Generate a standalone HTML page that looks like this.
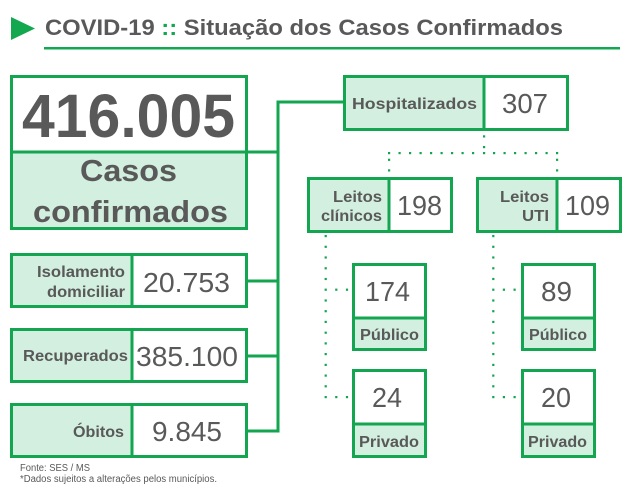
<!DOCTYPE html>
<html><head><meta charset="utf-8"><style>
html,body{margin:0;padding:0;background:#fff;}
svg{display:block;}
text{font-family:"Liberation Sans",Arial,sans-serif;fill:#595959;}
.b{font-weight:bold;}
</style></head><body>
<svg width="625" height="501" viewBox="0 0 625 501" xmlns="http://www.w3.org/2000/svg">
<rect width="625" height="501" fill="#fff"/>
<!-- title -->
<polygon points="11,17 35,28.5 11,40" fill="#13a84f"/>
<text class="b" x="45" y="35" font-size="22" textLength="518" lengthAdjust="spacingAndGlyphs">COVID-19 <tspan fill="#13a84f">::</tspan> Situação dos Casos Confirmados</text>
<rect x="44" y="47" width="576" height="2.5" fill="#13a84f"/>

<g stroke="#13a54f" stroke-width="3" fill="none">
<!-- connectors -->
<line x1="248" y1="152" x2="278" y2="152"/>
<line x1="278" y1="100.5" x2="278" y2="432.5"/>
<line x1="276.5" y1="102" x2="343" y2="102"/>
<line x1="248" y1="281" x2="278" y2="281"/>
<line x1="248" y1="356" x2="278" y2="356"/>
<line x1="248" y1="431" x2="278" y2="431"/>
</g>

<!-- big box -->
<rect x="11.5" y="152" width="235" height="76.5" fill="#d2efdf"/>
<rect x="11.5" y="76.5" width="235" height="152" fill="none" stroke="#13a54f" stroke-width="3"/>
<line x1="11.5" y1="152" x2="246.5" y2="152" stroke="#13a54f" stroke-width="3"/>
<text class="b" x="22" y="137" font-size="61" textLength="213" lengthAdjust="spacingAndGlyphs">416.005</text>
<text class="b" x="80" y="181" font-size="31" textLength="97" lengthAdjust="spacingAndGlyphs">Casos</text>
<text class="b" x="33" y="222" font-size="31" textLength="195" lengthAdjust="spacingAndGlyphs">confirmados</text>

<!-- left boxes -->
<g>
<rect x="11.5" y="254.5" width="120.5" height="52" fill="#d2efdf"/>
<rect x="11.5" y="254.5" width="235" height="52" fill="none" stroke="#13a54f" stroke-width="3"/>
<line x1="132" y1="254.5" x2="132" y2="306.5" stroke="#13a54f" stroke-width="3"/>
<text class="b" x="37" y="277" font-size="16" textLength="88" lengthAdjust="spacingAndGlyphs">Isolamento</text>
<text class="b" x="47" y="297" font-size="16" textLength="78" lengthAdjust="spacingAndGlyphs">domiciliar</text>
<text x="143" y="292" font-size="28" textLength="87" lengthAdjust="spacingAndGlyphs">20.753</text>
</g>
<g>
<rect x="11.5" y="329.5" width="120.5" height="52" fill="#d2efdf"/>
<rect x="11.5" y="329.5" width="235" height="52" fill="none" stroke="#13a54f" stroke-width="3"/>
<line x1="132" y1="329.5" x2="132" y2="381.5" stroke="#13a54f" stroke-width="3"/>
<text class="b" x="23" y="361" font-size="16" textLength="105" lengthAdjust="spacingAndGlyphs">Recuperados</text>
<text x="136" y="366" font-size="28" textLength="102" lengthAdjust="spacingAndGlyphs">385.100</text>
</g>
<g>
<rect x="11.5" y="404.5" width="120.5" height="52" fill="#d2efdf"/>
<rect x="11.5" y="404.5" width="235" height="52" fill="none" stroke="#13a54f" stroke-width="3"/>
<line x1="132" y1="404.5" x2="132" y2="456.5" stroke="#13a54f" stroke-width="3"/>
<text class="b" x="73" y="437" font-size="16" textLength="51" lengthAdjust="spacingAndGlyphs">Óbitos</text>
<text x="152" y="441" font-size="28" textLength="70" lengthAdjust="spacingAndGlyphs">9.845</text>
</g>

<!-- Hospitalizados -->
<rect x="344.5" y="76.5" width="139.5" height="53" fill="#d2efdf"/>
<rect x="344.5" y="76.5" width="223" height="53" fill="none" stroke="#13a54f" stroke-width="3"/>
<line x1="484" y1="76.5" x2="484" y2="129.5" stroke="#13a54f" stroke-width="3"/>
<text class="b" x="352" y="109" font-size="16" textLength="125" lengthAdjust="spacingAndGlyphs">Hospitalizados</text>
<text x="502" y="113" font-size="28" textLength="46" lengthAdjust="spacingAndGlyphs">307</text>

<!-- Leitos clinicos -->
<rect x="308.5" y="178.5" width="80.5" height="53" fill="#d2efdf"/>
<rect x="308.5" y="178.5" width="143" height="53" fill="none" stroke="#13a54f" stroke-width="3"/>
<line x1="389" y1="178.5" x2="389" y2="231.5" stroke="#13a54f" stroke-width="3"/>
<text class="b" x="333" y="202" font-size="16" textLength="49" lengthAdjust="spacingAndGlyphs">Leitos</text>
<text class="b" x="321" y="221" font-size="16" textLength="61" lengthAdjust="spacingAndGlyphs">clínicos</text>
<text x="397" y="215" font-size="28" textLength="45" lengthAdjust="spacingAndGlyphs">198</text>

<!-- Leitos UTI -->
<rect x="477.5" y="178.5" width="79.5" height="53" fill="#d2efdf"/>
<rect x="477.5" y="178.5" width="143" height="53" fill="none" stroke="#13a54f" stroke-width="3"/>
<line x1="557" y1="178.5" x2="557" y2="231.5" stroke="#13a54f" stroke-width="3"/>
<text class="b" x="500" y="202" font-size="16" textLength="49" lengthAdjust="spacingAndGlyphs">Leitos</text>
<text class="b" x="522" y="221" font-size="16" textLength="27" lengthAdjust="spacingAndGlyphs">UTI</text>
<text x="565" y="215" font-size="28" textLength="45" lengthAdjust="spacingAndGlyphs">109</text>

<!-- sub boxes -->
<g>
<rect x="353.5" y="318" width="72" height="31.5" fill="#d2efdf"/>
<rect x="353.5" y="264.5" width="72" height="85" fill="none" stroke="#13a54f" stroke-width="3"/>
<line x1="353.5" y1="318" x2="425.5" y2="318" stroke="#13a54f" stroke-width="3"/>
<text x="365" y="301" font-size="28" textLength="45" lengthAdjust="spacingAndGlyphs">174</text>
<text class="b" x="360" y="340" font-size="16" textLength="59" lengthAdjust="spacingAndGlyphs">Público</text>
</g>
<g>
<rect x="353.5" y="424" width="72" height="32.5" fill="#d2efdf"/>
<rect x="353.5" y="370.5" width="72" height="86" fill="none" stroke="#13a54f" stroke-width="3"/>
<line x1="353.5" y1="424" x2="425.5" y2="424" stroke="#13a54f" stroke-width="3"/>
<text x="372" y="407" font-size="28" textLength="30" lengthAdjust="spacingAndGlyphs">24</text>
<text class="b" x="359" y="447" font-size="16" textLength="60" lengthAdjust="spacingAndGlyphs">Privado</text>
</g>
<g>
<rect x="522.5" y="318" width="72" height="31.5" fill="#d2efdf"/>
<rect x="522.5" y="264.5" width="72" height="85" fill="none" stroke="#13a54f" stroke-width="3"/>
<line x1="522.5" y1="318" x2="594.5" y2="318" stroke="#13a54f" stroke-width="3"/>
<text x="541" y="301" font-size="28" textLength="31" lengthAdjust="spacingAndGlyphs">89</text>
<text class="b" x="529" y="340" font-size="16" textLength="58" lengthAdjust="spacingAndGlyphs">Público</text>
</g>
<g>
<rect x="522.5" y="424" width="72" height="32.5" fill="#d2efdf"/>
<rect x="522.5" y="370.5" width="72" height="86" fill="none" stroke="#13a54f" stroke-width="3"/>
<line x1="522.5" y1="424" x2="594.5" y2="424" stroke="#13a54f" stroke-width="3"/>
<text x="541" y="407" font-size="28" textLength="30" lengthAdjust="spacingAndGlyphs">20</text>
<text class="b" x="528" y="447" font-size="16" textLength="59" lengthAdjust="spacingAndGlyphs">Privado</text>
</g>

<!-- dotted connectors -->
<g fill="#13a54f">
<rect x="483" y="135.3" width="2.2" height="2.2"/>
<rect x="483" y="146" width="2.2" height="2.2"/>
<rect x="388" y="152" width="2.2" height="2.2"/>
<rect x="398.5" y="152" width="2.2" height="2.2"/>
<rect x="409" y="152" width="2.2" height="2.2"/>
<rect x="419.5" y="152" width="2.2" height="2.2"/>
<rect x="430" y="152" width="2.2" height="2.2"/>
<rect x="440.5" y="152" width="2.2" height="2.2"/>
<rect x="451" y="152" width="2.2" height="2.2"/>
<rect x="461.5" y="152" width="2.2" height="2.2"/>
<rect x="472" y="152" width="2.2" height="2.2"/>
<rect x="483" y="152" width="2.2" height="2.2"/>
<rect x="493" y="152" width="2.2" height="2.2"/>
<rect x="503.5" y="152" width="2.2" height="2.2"/>
<rect x="514" y="152" width="2.2" height="2.2"/>
<rect x="524.5" y="152" width="2.2" height="2.2"/>
<rect x="535" y="152" width="2.2" height="2.2"/>
<rect x="545.5" y="152" width="2.2" height="2.2"/>
<rect x="556" y="152" width="2.2" height="2.2"/>
<rect x="388" y="158.7" width="2.2" height="2.2"/>
<rect x="388" y="169.3" width="2.2" height="2.2"/>
<rect x="556" y="158.7" width="2.2" height="2.2"/>
<rect x="556" y="169.3" width="2.2" height="2.2"/>
</g>
<g fill="#13a54f" id="vd">
<rect x="324.6" y="235" width="2.2" height="2.2"/>
<rect x="324.6" y="245.7" width="2.2" height="2.2"/>
<rect x="324.6" y="256.4" width="2.2" height="2.2"/>
<rect x="324.6" y="267.2" width="2.2" height="2.2"/>
<rect x="324.6" y="277.9" width="2.2" height="2.2"/>
<rect x="324.6" y="288.6" width="2.2" height="2.2"/>
<rect x="324.6" y="299.4" width="2.2" height="2.2"/>
<rect x="324.6" y="310.1" width="2.2" height="2.2"/>
<rect x="324.6" y="320.8" width="2.2" height="2.2"/>
<rect x="324.6" y="331.6" width="2.2" height="2.2"/>
<rect x="324.6" y="342.3" width="2.2" height="2.2"/>
<rect x="324.6" y="353" width="2.2" height="2.2"/>
<rect x="324.6" y="363.8" width="2.2" height="2.2"/>
<rect x="324.6" y="374.5" width="2.2" height="2.2"/>
<rect x="324.6" y="385.2" width="2.2" height="2.2"/>
<rect x="324.6" y="396" width="2.2" height="2.2"/>
<rect x="335.2" y="288.6" width="2.2" height="2.2"/>
<rect x="345.9" y="288.6" width="2.2" height="2.2"/>
<rect x="335.2" y="396" width="2.2" height="2.2"/>
<rect x="345.9" y="396" width="2.2" height="2.2"/>
</g>
<g fill="#13a54f" transform="translate(167.6,0)">
<rect x="324.6" y="235" width="2.2" height="2.2"/>
<rect x="324.6" y="245.7" width="2.2" height="2.2"/>
<rect x="324.6" y="256.4" width="2.2" height="2.2"/>
<rect x="324.6" y="267.2" width="2.2" height="2.2"/>
<rect x="324.6" y="277.9" width="2.2" height="2.2"/>
<rect x="324.6" y="288.6" width="2.2" height="2.2"/>
<rect x="324.6" y="299.4" width="2.2" height="2.2"/>
<rect x="324.6" y="310.1" width="2.2" height="2.2"/>
<rect x="324.6" y="320.8" width="2.2" height="2.2"/>
<rect x="324.6" y="331.6" width="2.2" height="2.2"/>
<rect x="324.6" y="342.3" width="2.2" height="2.2"/>
<rect x="324.6" y="353" width="2.2" height="2.2"/>
<rect x="324.6" y="363.8" width="2.2" height="2.2"/>
<rect x="324.6" y="374.5" width="2.2" height="2.2"/>
<rect x="324.6" y="385.2" width="2.2" height="2.2"/>
<rect x="324.6" y="396" width="2.2" height="2.2"/>
<rect x="335.2" y="288.6" width="2.2" height="2.2"/>
<rect x="345.9" y="288.6" width="2.2" height="2.2"/>
<rect x="335.2" y="396" width="2.2" height="2.2"/>
<rect x="345.9" y="396" width="2.2" height="2.2"/>
</g>

<!-- footnote -->
<text x="20" y="471" font-size="10" textLength="70" lengthAdjust="spacingAndGlyphs">Fonte: SES / MS</text>
<text x="20" y="482" font-size="10" textLength="197" lengthAdjust="spacingAndGlyphs">*Dados sujeitos a alterações pelos municípios.</text>
</svg>
</body></html>
